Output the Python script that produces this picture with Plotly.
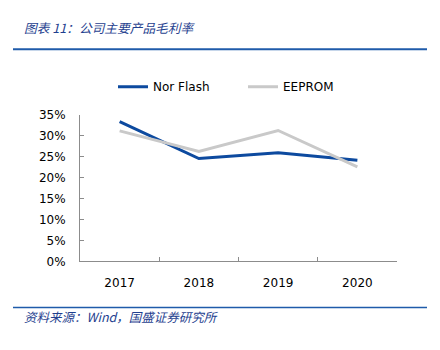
import plotly.graph_objects as go

years = ["2017", "2018", "2019", "2020"]
nor_flash = [0.334, 0.246, 0.260, 0.242]
eeprom = [0.312, 0.263, 0.313, 0.226]
y_ticks = [0, 0.05, 0.10, 0.15, 0.20, 0.25, 0.30, 0.35]

W, H = 440, 350
BLUE = "#0D4A9F"
GREY = "#C9C9C9"

fig = go.Figure()
fig.add_trace(go.Scatter(x=years, y=nor_flash, mode="lines", name="Nor Flash",
                         line=dict(color=BLUE, width=3), legend="legend"))
fig.add_trace(go.Scatter(x=years, y=eeprom, mode="lines", name="EEPROM",
                         line=dict(color=GREY, width=3), legend="legend2"))

def px(x): return x / W
def py(y): return 1 - y / H

leg_common = dict(orientation="h", yanchor="top", xanchor="left",
                  font=dict(size=12), itemwidth=30, bgcolor="rgba(0,0,0,0)")

fig.update_layout(
    width=W, height=H, margin=dict(l=0, r=0, t=0, b=0),
    paper_bgcolor="white", plot_bgcolor="white",
    font=dict(family="DejaVu Sans", size=12, color="#000"),
    showlegend=True,
    legend=dict(x=px(113), y=py(68), **leg_common),
    legend2=dict(x=px(243), y=py(68), **leg_common),
    xaxis=dict(domain=[px(80), px(397)], type="category", range=[-0.5, 3.5],
               showline=True, linecolor="#8C8C8C", linewidth=1,
               ticks="inside", ticklen=4, tickcolor="#8C8C8C", tickson="boundaries",
               showgrid=False, zeroline=False, ticklabelstandoff=10),
    yaxis=dict(domain=[py(265), py(112.5)], range=[0, 0.35], tickvals=y_ticks,
               tickformat=".0%", showline=True, linecolor="#8C8C8C", linewidth=1,
               ticks="inside", ticklen=4, tickcolor="#8C8C8C",
               showgrid=False, zeroline=False, ticklabelstandoff=11),
)

fig.add_annotation(text="<i>图表 11：公司主要产品毛利率</i>", xref="paper", yref="paper",
                   x=px(22), y=py(21), xanchor="left", yanchor="middle", showarrow=False,
                   font=dict(family="Noto Sans CJK SC", size=12.7, color="#1F3F8F"))
fig.add_annotation(text="<i>资料来源：Wind，国盛证券研究所</i>", xref="paper", yref="paper",
                   x=px(22), y=py(322), xanchor="left", yanchor="middle", showarrow=False,
                   font=dict(family="Noto Sans CJK SC", size=12.5, color="#1F3F8F"))
fig.add_shape(type="line", xref="paper", yref="paper", x0=px(13), x1=px(427),
              y0=py(44), y1=py(44), line=dict(color="#1F5BAA", width=2))
fig.add_shape(type="line", xref="paper", yref="paper", x0=px(13), x1=px(427),
              y0=py(313), y1=py(313), line=dict(color="#1F5BAA", width=1.5))

fig.write_html("out.html")
